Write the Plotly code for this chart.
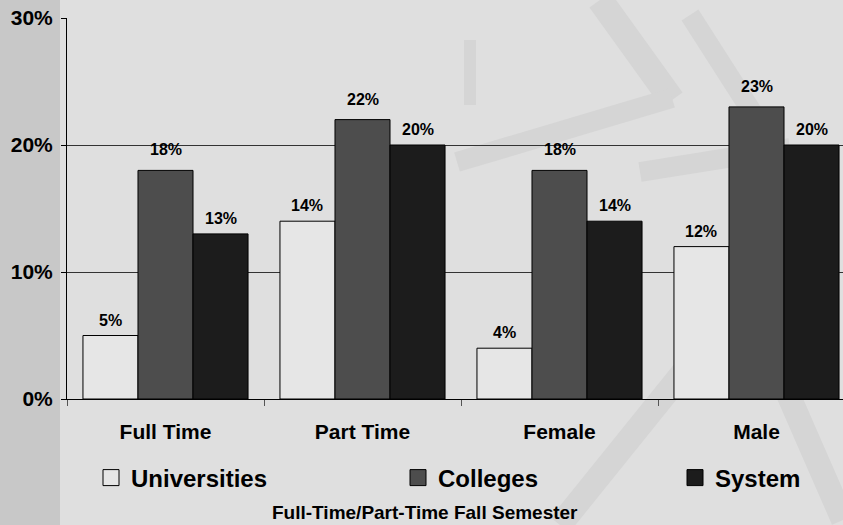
import plotly.graph_objects as go

# ---------------- data ----------------
categories = ["Full Time", "Part Time", "Female", "Male"]
series_names = ["Universities", "Colleges", "System"]
universities = [5, 14, 4, 12]
colleges = [18, 22, 18, 23]
system = [13, 20, 14, 20]
y_tick_vals = [0, 10, 20, 30]
y_tick_text = ["0%", "10%", "20%", "30%"]
subtitle = "Full-Time/Part-Time Fall Semester"

# ---------------- layout geometry / style ----------------
W, H = 843, 525
ML, MR, MT, MB = 67, 0, 18, 126
PW, PH = W - ML - MR, H - MT - MB
FONT = "Liberation Sans, Arial, Helvetica, sans-serif"
BG = "#dfdfdf"
colors = ["#e6e6e6", "#4d4d4d", "#1c1c1c"]
label_shift = [5, 10, 5]
BARGAP = 0.162


def xp(px):
    return (px - ML) / PW


def yp(py):
    return (H - MB - py) / PH


fig = go.Figure()
all_series = [universities, colleges, system]
legends = ["legend", "legend2", "legend3"]
bw = (1 - BARGAP) / 3

for k, (name, vals, col, leg) in enumerate(zip(series_names, all_series, colors, legends)):
    fig.add_trace(go.Bar(
        x=categories, y=vals, name=name,
        marker=dict(color=col, line=dict(color="#000000", width=1)),
        showlegend=False, legendgroup=name, hoverinfo="x+y",
    ))
    fig.add_trace(go.Scatter(
        x=[None], y=[None], mode="markers", name=name, legend=leg,
        marker=dict(symbol="square", size=16, color=col, line=dict(color="#000000", width=1)),
        legendgroup=name, showlegend=True,
    ))
    for i, v in enumerate(vals):
        fig.add_annotation(
            x=i + (k - 1) * bw, y=v, xref="x", yref="y",
            text=f"{v}%", showarrow=False, yanchor="bottom", yshift=label_shift[k],
            font=dict(family=FONT, size=16, color="#000000", weight="bold"),
        )

# subtitle
fig.add_annotation(
    x=xp(425), y=yp(512), xref="paper", yref="paper", text=subtitle,
    showarrow=False, xanchor="center", yanchor="middle",
    font=dict(family=FONT, size=19, color="#000000", weight="bold"),
)

# decorative background: left strip and faint watermark stripes
shapes = [dict(type="rect", xref="paper", yref="paper", x0=xp(0), x1=xp(60), y0=yp(H), y1=yp(0),
               fillcolor="#c8c8c8", line=dict(width=0), layer="below")]
stripes = [
    ((600, 0), (672, 100), 26),
    ((457, 162), (672, 98), 20),
    ((470, 40), (470, 105), 12),
    ((640, 172), (790, 148), 20),
    ((690, 15), (770, 140), 20),
    ((560, 525), (705, 345), 24),
    ((760, 330), (843, 520), 24),
]
for (x0, y0), (x1, y1), w in stripes:
    shapes.append(dict(type="line", xref="paper", yref="paper",
                       x0=xp(x0), y0=yp(y0), x1=xp(x1), y1=yp(y1),
                       line=dict(color="#d5d5d5", width=w), layer="below"))

legend_common = dict(orientation="h", xanchor="left", yanchor="middle", bgcolor="rgba(0,0,0,0)",
                     font=dict(family=FONT, size=24, color="#000000", weight="bold"),
                     itemwidth=30, borderwidth=0, itemclick=False, itemdoubleclick=False)

fig.update_layout(
    width=W, height=H,
    margin=dict(l=ML, r=MR, t=MT, b=MB, autoexpand=False),
    paper_bgcolor=BG, plot_bgcolor=BG,
    barmode="group", bargap=BARGAP, bargroupgap=0,
    shapes=shapes,
    legend=dict(x=xp(91), y=yp(478), **legend_common),
    legend2=dict(x=xp(398), y=yp(478), **legend_common),
    legend3=dict(x=xp(675), y=yp(478), **legend_common),
    xaxis=dict(
        type="category", range=[-0.5, 3.5 - 12 / 197], showgrid=False,
        showline=True, linecolor="#000000", linewidth=1,
        ticks="outside", tickson="boundaries", ticklen=6, tickcolor="#555555",
        tickfont=dict(family=FONT, size=21, color="#000000", weight="bold"),
        ticklabelstandoff=14,
    ),
    yaxis=dict(
        range=[0, 30], tickvals=y_tick_vals, ticktext=y_tick_text,
        showgrid=True, gridcolor="#333333", gridwidth=1,
        showline=True, linecolor="#000000", linewidth=1, zeroline=False,
        ticks="outside", ticklen=5, tickcolor="#000000",
        tickfont=dict(family=FONT, size=21, color="#000000", weight="bold"),
        ticklabelstandoff=4,
    ),
)

fig.write_html("out.html", config={"displayModeBar": False},
               post_script="document.body.style.margin='0';document.body.style.overflow='hidden';")
